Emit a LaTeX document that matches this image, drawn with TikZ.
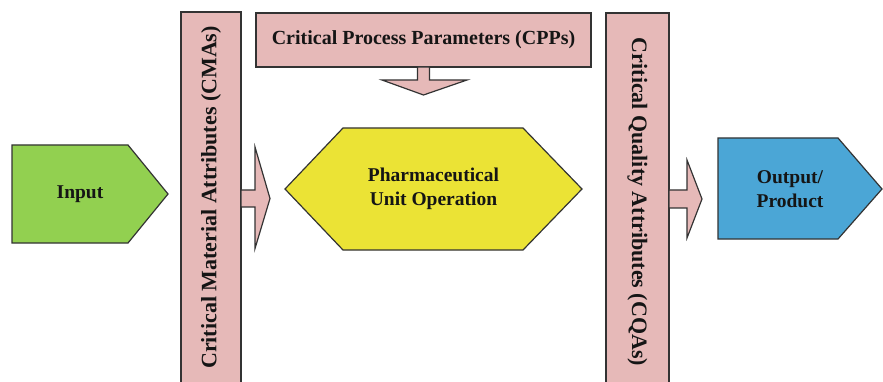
\documentclass[tikz,border=0pt]{standalone}
\usepackage{fontspec}
\usepackage{graphicx}
\setmainfont{Liberation Serif}
\usetikzlibrary{calc,backgrounds}

\definecolor{edge}{HTML}{333333}
\definecolor{ink}{HTML}{151515}
\definecolor{inputgreen}{HTML}{92D050}
\definecolor{attrpink}{HTML}{E6B9B8}
\definecolor{unityellow}{HTML}{EBE335}
\definecolor{outblue}{HTML}{4BA6D6}

\begin{document}
\begin{tikzpicture}[x=1pt, y=-1pt,
  outline/.style={draw=edge, line width=1.2pt, line join=miter},
  word/.style={font=\fontsize{19.5}{24}\selectfont\bfseries, text=ink, align=center, inner sep=0pt},
  bar/.style={outline, fill=attrpink, inner sep=0pt, outer sep=0pt,
              font=\fontsize{22}{26}\selectfont\bfseries, text=ink},
  blockarrow/.style={outline, fill=attrpink}]

\useasboundingbox (0,0) rectangle (883,382);
\clip (0,0) rectangle (883,382);

% attribute bars and the parameter box
\node[bar, minimum width=60, minimum height=371] (cma) at (211,197.5)
  {\rotatebox{90}{Critical Material Attributes (CMAs)}};
\node[bar, minimum width=63, minimum height=378] (cqa) at (637.5,202)
  {\rotatebox{-90}{Critical Quality Attributes (CQAs)}};
\node[bar, minimum width=335, minimum height=54, font=\fontsize{20}{24}\selectfont\bfseries] (cpp) at (423.5,40)
  {Critical Process Parameters (CPPs)};

% labels of the flow shapes
\node[word] (input) at (80,194) {Input};
\node[word] (unit) at (433.5,189) {Pharmaceutical\\Unit Operation};
\node[word] (output) at (790,189) {Output/\\Product};

% flow shapes behind their labels
\begin{scope}[on background layer]
  \path[outline, fill=inputgreen, shift={(input.center)}]
    (-68,-49) -- (48,-49) -- (88,0) -- (48,49) -- (-68,49) -- cycle;
  \path[outline, fill=unityellow, shift={(unit.center)}]
    (-148.5,0) -- (-90.5,-61) -- (89.5,-61) -- (148.5,0) -- (89.5,61) -- (-90.5,61) -- cycle;
  \path[outline, fill=outblue, shift={(output.center)}]
    (-72,-51) -- (48,-51) -- (92,0) -- (48,50) -- (-72,50) -- cycle;
\end{scope}

% block arrows leaving the bars and the parameter box
\coordinate (cmaport) at ($(cma.east)+(0,1)$);
\coordinate (cqaport) at ($(cqa.east)+(0,-3)$);
\path[blockarrow, shift={(cmaport)}]
  (0,-8.5) -- (14,-8.5) -- (14,-51.5) -- (29,0) -- (14,50) -- (14,8.5) -- (0,8.5) -- cycle;
\path[blockarrow, shift={(cqaport)}]
  (0,-9) -- (18,-9) -- (18,-39) -- (33,0) -- (18,39) -- (18,9) -- (0,9) -- cycle;
\path[blockarrow, shift={(cpp.south)}]
  (-6,0) -- (-6,13) -- (-41.5,13) -- (0,28) -- (43.5,13) -- (6,13) -- (6,0) -- cycle;

\end{tikzpicture}
\end{document}
